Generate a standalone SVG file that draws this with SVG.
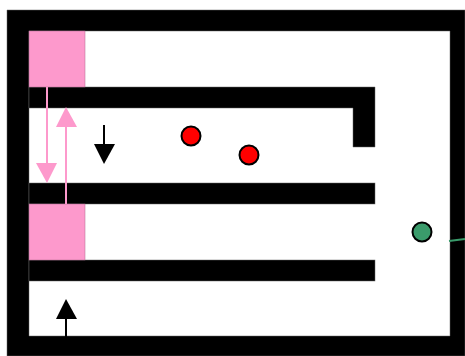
<svg xmlns="http://www.w3.org/2000/svg" width="465" height="356" viewBox="0 0 465 356">
<style>
.wall{fill:#000;stroke:#666;stroke-width:0.5}
.pink{fill:#fd99cc;stroke:#b06a8e;stroke-width:0.5}
.parr{stroke:#fd99cc;stroke-width:2;fill:none}
.barr{stroke:#000;stroke-width:2;fill:none}
.red{fill:#ff0000;stroke:#000;stroke-width:2}
.grn{fill:#3a9b6b;stroke:#000;stroke-width:2}
</style>
<rect width="465" height="356" fill="#fff"/>
<g id="walls">
<path class="wall" fill-rule="evenodd" d="M7,10 H465 V356 H7 Z M29,31 V336 H450 V31 Z"/>
<path class="wall" d="M29,87 H375 V147 H353 V108 H29 Z"/>
<rect class="wall" x="29" y="183" width="346" height="21"/>
<rect class="wall" x="29" y="260" width="346" height="21"/>
</g>
<g id="pink-top"><rect class="pink" x="29" y="31" width="56" height="56"/></g>
<g id="pink-bottom"><rect class="pink" x="29" y="204" width="56" height="56"/></g>
<g id="connectors">
<line class="parr" x1="47" y1="87" x2="47" y2="165"/>
<polygon points="36,163 57,163 47,183" fill="#fd99cc"/>
<line class="parr" x1="66" y1="204" x2="66" y2="125"/>
<polygon points="56,127 77,127 66,107" fill="#fd99cc"/>
<line class="barr" x1="104" y1="125" x2="104" y2="146"/>
<polygon points="94,144 115,144 104,164" fill="#000"/>
<line class="barr" x1="66" y1="337" x2="66" y2="317"/>
<polygon points="56,319 77,319 66,299" fill="#000"/>
<line x1="449" y1="241" x2="465" y2="239" stroke="#3a9b6b" stroke-width="2"/>
</g>
<g id="red1"><circle class="red" cx="191" cy="136" r="9.5"/></g>
<g id="red2"><circle class="red" cx="249" cy="155" r="9.5"/></g>
<g id="green"><circle class="grn" cx="422" cy="232" r="9.5"/></g>
</svg>
